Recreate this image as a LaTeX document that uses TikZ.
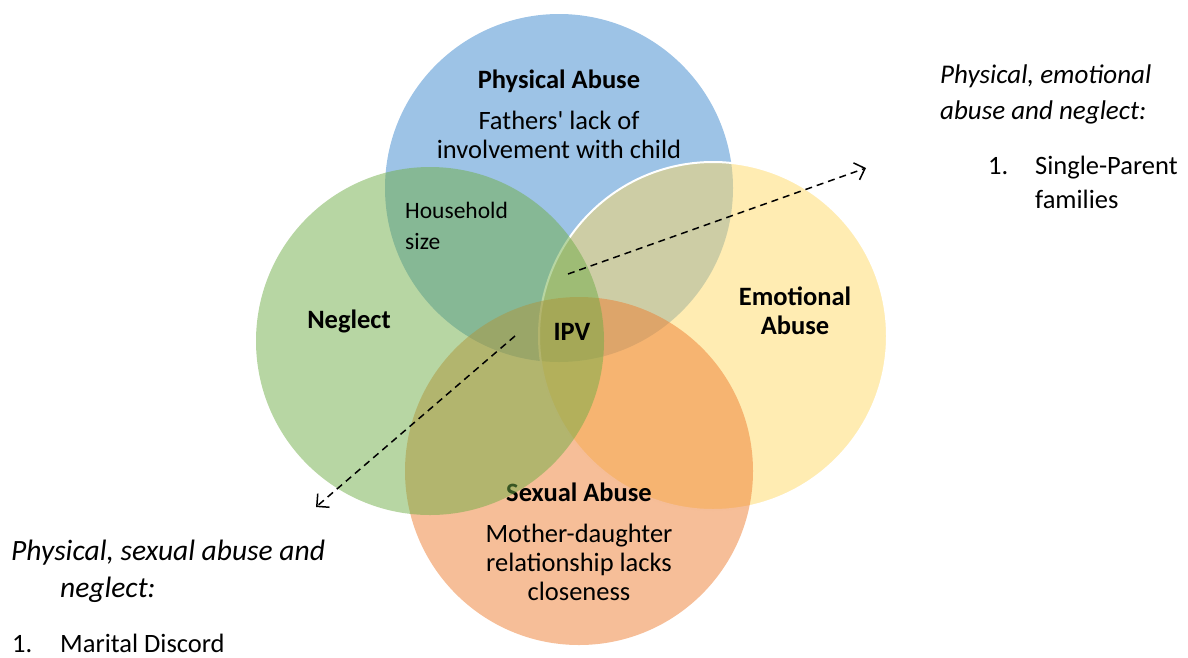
\documentclass[tikz,border=0pt]{standalone}
\usepackage{fontspec}
\setmainfont{Carlito}
\usetikzlibrary{arrows.meta}

\definecolor{pblue}{RGB}{91,155,213}
\definecolor{pyellow}{RGB}{255,217,102}
\definecolor{porange}{RGB}{237,125,49}
\definecolor{pgreen}{RGB}{112,173,71}

\tikzset{
  circ/.style={circle, minimum size=348pt, inner sep=0pt},
  txt/.style={inner sep=0pt, anchor=base, font=\fontsize{26.5}{30}\selectfont},
  ttl/.style={txt, font=\fontsize{26.5}{30}\selectfont\bfseries},
  small/.style={inner sep=0pt, anchor=base west, font=\fontsize{23.5}{26}\selectfont},
  note/.style={inner sep=0pt, anchor=base west, font=\fontsize{26.5}{30}\selectfont},
  notehead/.style={note, font=\fontsize{27}{30}\selectfont\itshape},
  bighead/.style={note, font=\fontsize{29.5}{32}\selectfont\itshape},
  link/.style={draw=black, line width=1.5pt, dash pattern=on 7pt off 5pt,
    -{Straight Barb[length=9pt, width=18pt, line width=1.5pt]}}
}

\begin{document}
\begin{tikzpicture}[x=1pt, y=-1pt]
\useasboundingbox (0,0) rectangle (1188,657);

% the four overlapping sets
\node[circ, fill=pblue, fill opacity=0.6] (phys) at (559,188) {};
\node[circ, fill=pyellow, fill opacity=0.5, draw=white, line width=2pt] (emo) at (713,336) {};
\node[circ, fill=porange, fill opacity=0.5] (sex) at (579,471) {};
\node[ttl] (sextitle) at (579,501) {Sexual Abuse};
\node[circ, fill=pgreen, fill opacity=0.5] (negl) at (430,341) {};

% labels inside the sets
\node[ttl] (phystitle) at (559,88) {Physical Abuse};
\node[txt] (phys1) at (559,129) {Fathers\textquotesingle{} lack of};
\node[txt] (phys2) at (559,158) {involvement with child};
\node[small] (house1) at (405,218) {Household};
\node[small] (house2) at (405,249) {size};
\node[ttl] (negltitle) at (349,328) {Neglect};
\node[ttl] (ipv) at (572,340) {IPV};
\node[ttl] (emo1) at (795,305) {Emotional};
\node[ttl] (emo2) at (795,334) {Abuse};
\node[txt] (sex1) at (579,542) {Mother-daughter};
\node[txt] (sex2) at (579,571) {relationship lacks};
\node[txt] (sex3) at (579,600) {closeness};

% side notes
\node[notehead] (rhead1) at (940,83) {Physical, emotional};
\node[notehead] (rhead2) at (940,119) {abuse and neglect:};
\node[note] (rnum) at (988,174) {1.};
\node[note] (ritem1) at (1035,174) {Single-Parent};
\node[note] (ritem2) at (1035,208) {families};

\node[bighead] (lhead1) at (11,560) {Physical, sexual abuse and};
\node[bighead] (lhead2) at (60,597) {neglect:};
\node[note] (lnum) at (12,652) {1.};
\node[note] (litem) at (60,652) {Marital Discord};

% dashed pointers from the centre
\coordinate (a1s) at (568,274);
\coordinate (a1e) at (866,168);
\coordinate (a2s) at (515,336);
\coordinate (a2e) at (316,507);
\draw[link] (a1s) -- (a1e);
\draw[link] (a2s) -- (a2e);
\end{tikzpicture}
\end{document}
